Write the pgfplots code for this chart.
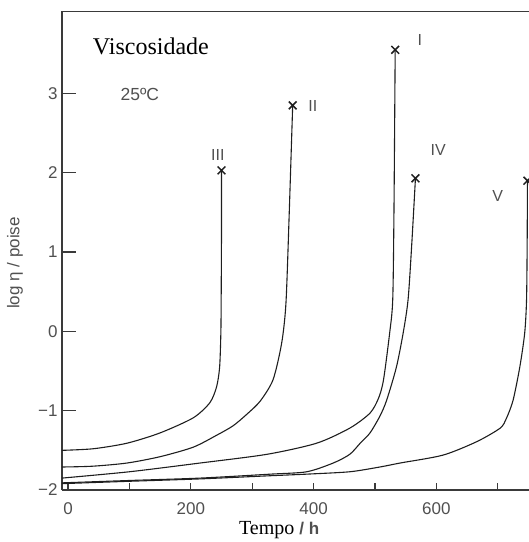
\documentclass[border=0pt]{standalone}
\usepackage{fontspec}
\setmainfont{Liberation Serif}
\newfontfamily\arialf{Liberation Sans}
\usepackage{pgfplots}
\pgfplotsset{compat=1.18}
\definecolor{lbl}{HTML}{505050}
\definecolor{crv}{HTML}{1E1E1E}
\definecolor{axc}{HTML}{3A3A3A}
\begin{document}
\begin{tikzpicture}
\begin{axis}[
  scale only axis, width=467pt, height=479pt,
  xmin=-9.8, xmax=751, ymin=-2, ymax=4.04,
  axis x line*=bottom, axis y line*=left,
  axis line style={axc, line width=1.3pt, -},
  xtick={0,200,400,600}, xticklabels={0,200,400,600},
  minor xtick={0,100,200,300,400,500,600,700},
  ytick={-2,-1,0,1,2,3}, yticklabels={−2,−1,0,1,2,3},
  tick align=inside,
  major tick length=14pt, minor tick length=7pt,
  major x tick style={draw=none},
  tick style={axc, line width=1.2pt},
  ticklabel style={font=\arialf\fontsize{17}{17}\selectfont, text=lbl},
  yticklabel style={xshift=-1pt},
  xticklabel style={yshift=-9pt},
  xlabel={\fontsize{20}{20}\selectfont Tempo {\arialf\bfseries\fontsize{17}{17}\selectfont\color{lbl} / h}},
  x label style={at={(axis description cs:0.465,-0.084)}, anchor=center},
  ylabel={\arialf\fontsize{17}{17}\selectfont\color{lbl} log η / poise},
  y label style={at={(axis description cs:-0.1006,0.474)}, anchor=center},
  clip=true,
]
% III
\addplot[crv, line width=1.1pt, smooth, tension=0.45] coordinates {
(-10,-1.50) (41,-1.48) (96,-1.41) (150,-1.28) (204,-1.09) (231,-0.90) (242,-0.70) (247,-0.45) (249,-0.02) (249.5,0.4) (250,1.2) (250,2.03)};
% II
\addplot[crv, line width=1.1pt, smooth, tension=0.45] coordinates {
(-10,-1.71) (40,-1.70) (96,-1.66) (150,-1.58) (204,-1.46) (242,-1.31) (269,-1.19) (292,-1.04) (313,-0.88) (334,-0.61) (348,-0.15) (355,0.35) (360,1.4) (366,2.85)};
% I
\addplot[crv, line width=1.1pt, smooth, tension=0.45] coordinates {
(-10,-1.85) (100,-1.77) (215,-1.66) (324,-1.55) (405,-1.41) (459,-1.22) (492,-1.03) (506,-0.84) (514,-0.61) (524,-0.02) (529,0.4) (531,1.5) (533,3.55)};
% IV
\addplot[crv, line width=1.1pt, smooth, tension=0.45] coordinates {
(-10,-1.91) (100,-1.88) (215,-1.85) (330,-1.80) (389,-1.77) (432,-1.66) (459,-1.55) (476,-1.41) (492,-1.28) (508,-1.07) (519,-0.87) (535,-0.45) (546,-0.02) (554,0.4) (560,1.1) (566,1.93)};
% V
\addplot[crv, line width=1.1pt, smooth, tension=0.45] coordinates {
(-10,-1.92) (100,-1.89) (215,-1.86) (330,-1.82) (389,-1.80) (459,-1.77) (508,-1.71) (541,-1.66) (611,-1.56) (666,-1.39) (704,-1.22) (714,-1.10) (725,-0.87) (736,-0.45) (744,-0.02) (747,0.4) (748,1.1) (748.5,1.90)};
% end crosses
\addplot[only marks, mark=x, mark size=5.5pt, crv, mark options={line width=1.5pt}] coordinates {
(250,2.03) (366,2.85) (533,3.55) (566,1.93) (748.5,1.90)};
\draw[axc, line width=1.4pt] (rel axis cs:0,1) -- (rel axis cs:1.02,1);
\node[font=\fontsize{24}{24}\selectfont, text=black] at (axis cs:135,3.59) {Viscosidade};
\node[font=\arialf\fontsize{17.5}{17.5}\selectfont, text=lbl] at (axis cs:117,2.99) {25ºC};
\node[font=\arialf\fontsize{16}{16}\selectfont, text=lbl] at (axis cs:573,3.67) {I};
\node[font=\arialf\fontsize{16}{16}\selectfont, text=lbl] at (axis cs:399,2.84) {II};
\node[font=\arialf\fontsize{16}{16}\selectfont, text=lbl] at (axis cs:244,2.22) {III};
\node[font=\arialf\fontsize{16}{16}\selectfont, text=lbl] at (axis cs:603,2.29) {IV};
\node[font=\arialf\fontsize{16}{16}\selectfont, text=lbl] at (axis cs:700,1.71) {V};
\end{axis}
\pgfresetboundingbox
\path[use as bounding box] (-62pt,-52pt) rectangle (467pt,490pt);
\end{tikzpicture}
\end{document}
